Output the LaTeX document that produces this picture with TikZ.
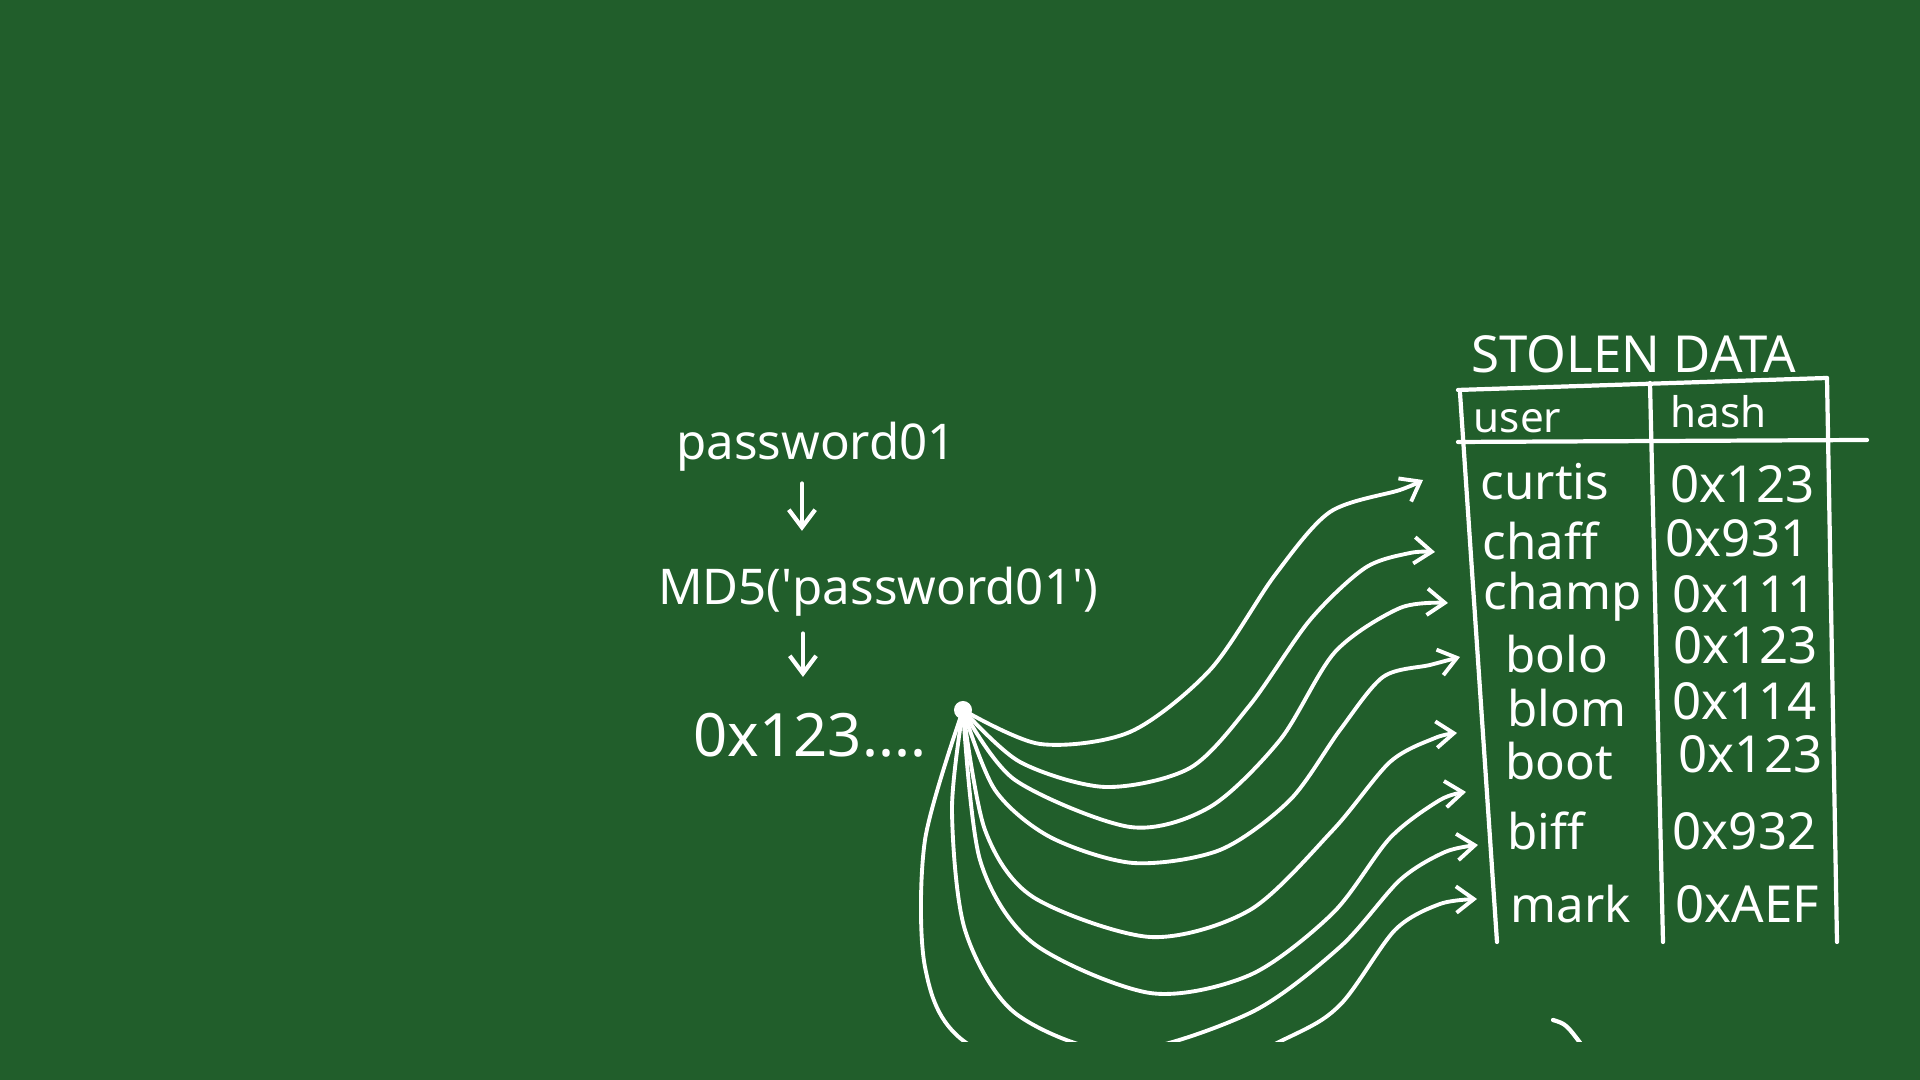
\documentclass[tikz,border=0pt]{standalone}
\usepackage{fontspec}
\setmainfont{Noto Sans}
\usetikzlibrary{arrows.meta,positioning,calc}
\definecolor{board}{RGB}{33,94,43}
\begin{document}
\begin{tikzpicture}[x=0.01cm,y=0.01cm,
chalk/.style={draw=white,line width=1.2pt,line cap=round,line join=round},
arr/.style={chalk,-{Straight Barb[length=5pt,width=7.5pt]}},
fan/.style={arr,line width=1.1pt},
txt/.style={text=white,inner sep=0pt,anchor=base},
cell/.style={txt,anchor=base west,font=\fontsize{14}{17}\selectfont}]
\fill[board] (0,0) rectangle (1920,1080);
\node[txt,font=\fontsize{14}{17}\selectfont] (pw) at (816,620) {password01};
\node[txt,font=\fontsize{14}{17}\selectfont] (md5) at (878,475) {MD5(\textquotesingle password01\textquotesingle)};
\node[txt,font=\fontsize{17}{20}\selectfont] (hex) at (810,323) {0x123....};
\draw[arr,shorten <=1.1mm,shorten >=3.6mm] ([xshift=-1.4mm]pw.south) -- ([xshift=-1.4mm]pw.south |- md5.north);
\draw[arr,shorten <=1.6mm,shorten >=3.6mm] ([xshift=-7.5mm]md5.south) -- ([xshift=-7.5mm]md5.south |- hex.north);
\node[circle,fill=white,inner sep=0pt,minimum size=1.8mm] (src) at (963,370) {};
\node[txt,font=\fontsize{14.5}{17}\selectfont] (title) at (1634,707) {STOLEN DATA};
\node[cell,font=\fontsize{12}{14}\selectfont] (user) at (1473,647) {user};
\node[cell,font=\fontsize{12}{14}\selectfont] (hash) at (1670,652) {hash};
\draw[chalk] (1458,690) -- (1827,702);
\draw[chalk] (1458,638) -- (1867,640);
\draw[chalk] (1460,687) -- (1497,138);
\draw[chalk] (1650,697) -- (1663,138);
\draw[chalk] (1827,702) -- (1837,138);
\foreach \nm/\hs/\nx/\hx/\ny/\hy [count=\i] in {curtis/0x123/1480/1670/580/577,chaff/0x931/1482/1665/520/523,champ/0x111/1483/1672/470/467,bolo/0x123/1505/1673/407/416,blom/0x114/1507/1672/353/360,boot/0x123/1505/1678/300/307,biff/0x932/1507/1672/230/230,mark/0xAEF/1510/1675/157/157}{
\node[cell] (u\i) at (\nx,\ny) {\nm};
\node[cell,font=\fontsize{14.5}{17}\selectfont] (h\i) at (\hx,\hy) {\hs};
}
\coordinate (t1) at (1423,600);
\coordinate (t2) at (1435,528);
\coordinate (t3) at (1448,477);
\coordinate (t4) at (1460,423);
\coordinate (t5) at (1457,347);
\coordinate (t6) at (1466,288);
\coordinate (t7) at (1478,235);
\coordinate (t8) at (1477,181);
\begin{scope}
\clip (0,38) rectangle (1920,1080);
\draw[fan] plot[smooth] coordinates {(src.center) (1040,336) (1130,348) (1210,410) (1275,505) (1330,568) (1400,590) (t1)};
\draw[fan] plot[smooth] coordinates {(src.center) (1020,318) (1105,293) (1190,312) (1250,375) (1310,460) (1365,512) (1410,527) (t2)};
\draw[fan] plot[smooth] coordinates {(src.center) (1015,300) (1130,253) (1210,273) (1280,340) (1335,428) (1400,472) (t3)};
\draw[fan] plot[smooth] coordinates {(src.center) (995,290) (1050,243) (1133,217) (1220,230) (1290,280) (1340,350) (1383,403) (1430,415) (t4)};
\draw[fan] plot[smooth] coordinates {(src.center) (985,250) (1033,183) (1150,143) (1250,170) (1333,250) (1390,318) (1435,342) (t5)};
\draw[fan] plot[smooth] coordinates {(src.center) (980,220) (1033,137) (1150,87) (1250,105) (1333,167) (1390,242) (1440,280) (t6)};
\draw[fan] plot[smooth] coordinates {(src.center) (952,270) (965,150) (1015,67) (1120,28) (1250,67) (1340,133) (1400,200) (1445,228) (t7)};
\draw[fan] plot[smooth] coordinates {(src.center) (925,240) (925,113) (965,38) (1120,-30) (1283,40) (1340,75) (1395,150) (1440,176) (t8)};
\draw[chalk] (1553,60) .. controls (1566,56) .. (1584,32);
\end{scope}
\end{tikzpicture}
\end{document}
